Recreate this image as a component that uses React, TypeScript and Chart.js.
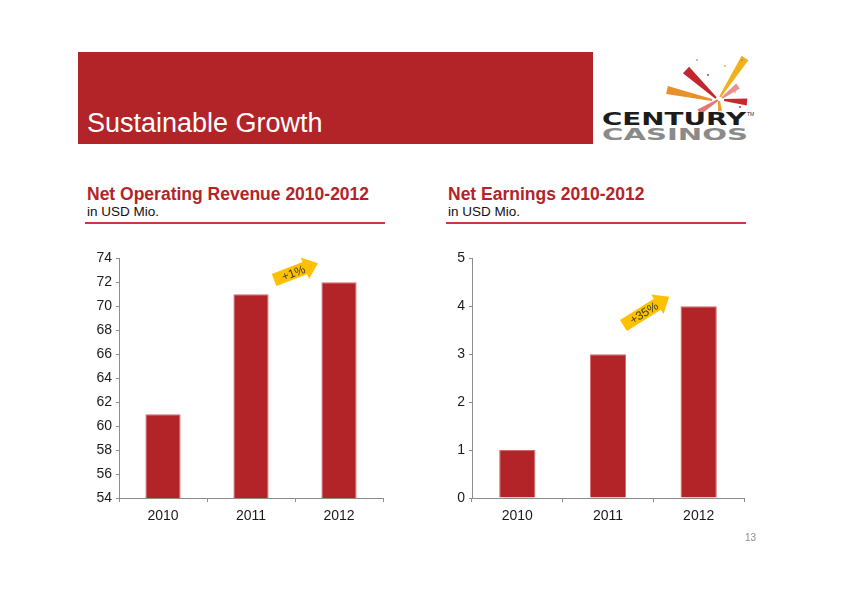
import React, { useEffect, useRef } from "react";
import { Chart, registerables } from "chart.js";

Chart.register(...registerables);

// ---- data ----
const years = ["2010", "2011", "2012"];
const revenueValues = [61, 71, 72];
const earningsValues = [1, 3, 4];
const revenueAxis = { min: 54, max: 74, step: 2 };
const earningsAxis = { min: 0, max: 5, step: 1 };
const revenueGrowthLabel = "+1%";
const earningsGrowthLabel = "+35%";

const FONT = "'Liberation Sans', Arial, Helvetica, sans-serif";
const RED = "#B22428";
const AXIS_GRAY = "#8c8c8c";

const arrowPlugin = {
  id: "growthArrow",
  afterDatasetsDraw(chart: any, _args: any, opts: any) {
    if (!opts || !opts.text) return;
    const { ctx } = chart;
    const x = chart.scales.x;
    const y = chart.scales.y;
    const cx =
      (x.getPixelForValue(opts.fromIndex) + x.getPixelForValue(opts.fromIndex + 1)) / 2 +
      (opts.dx || 0);
    const cy = y.getPixelForValue(opts.value);
    const L = opts.length;
    const half = L / 2;
    const headLen = 14;
    const bodyH = 6.5;
    const headH = 11.5;
    ctx.save();
    ctx.translate(cx, cy);
    ctx.rotate((opts.angle * Math.PI) / 180);
    ctx.beginPath();
    ctx.moveTo(-half, -bodyH);
    ctx.lineTo(half - headLen, -bodyH);
    ctx.lineTo(half - headLen, -headH);
    ctx.lineTo(half, 0);
    ctx.lineTo(half - headLen, headH);
    ctx.lineTo(half - headLen, bodyH);
    ctx.lineTo(-half, bodyH);
    ctx.closePath();
    ctx.fillStyle = "#FFC000";
    ctx.fill();
    ctx.fillStyle = "#3a3a3a";
    ctx.font = `12px ${FONT}`;
    ctx.textAlign = "center";
    ctx.textBaseline = "middle";
    ctx.fillText(opts.text, -headLen / 2 + 4, 1);
    ctx.restore();
  },
};

type BarChartProps = {
  values: number[];
  axis: { min: number; max: number; step: number };
  yWidth: number;
  rightPad: number;
  arrow: any;
  left: number;
  top: number;
  width: number;
  height: number;
};

function BarChart({ values, axis, yWidth, rightPad, arrow, left, top, width, height }: BarChartProps) {
  const ref = useRef<HTMLCanvasElement | null>(null);
  useEffect(() => {
    if (!ref.current) return;
    const chart = new Chart(ref.current, {
      type: "bar",
      data: {
        labels: years,
        datasets: [
          {
            data: values,
            backgroundColor: RED,
            borderColor: "#d26a6c",
            borderWidth: 1,
            categoryPercentage: 1,
            barPercentage: 0.4,
          },
        ],
      },
      options: {
        animation: false,
        responsive: false,
        devicePixelRatio: 1,
        layout: { padding: { top: 10, right: rightPad, left: 0, bottom: 0 } },
        plugins: {
          legend: { display: false },
          tooltip: { enabled: false },
          growthArrow: arrow,
        } as any,
        scales: {
          x: {
            grid: {
              display: true,
              drawOnChartArea: false,
              drawTicks: true,
              tickLength: 4,
              color: AXIS_GRAY,
              offset: true,
            },
            border: { display: true, color: AXIS_GRAY, width: 1 },
            ticks: { color: "#1a1a1a", font: { family: FONT, size: 14 }, padding: 6 },
            afterFit: (s: any) => {
              s.height = 38;
            },
          },
          y: {
            min: axis.min,
            max: axis.max,
            grid: {
              display: true,
              drawOnChartArea: false,
              drawTicks: true,
              tickLength: 3,
              color: AXIS_GRAY,
            },
            border: { display: true, color: AXIS_GRAY, width: 1 },
            ticks: {
              stepSize: axis.step,
              color: "#1a1a1a",
              font: { family: FONT, size: 14 },
              padding: 4,
            },
            afterFit: (s: any) => {
              s.width = yWidth;
            },
          },
        },
      },
      plugins: [arrowPlugin],
    } as any);
    return () => chart.destroy();
  }, []);
  return (
    <canvas
      ref={ref}
      width={width}
      height={height}
      style={{ position: "absolute", left, top, width, height }}
    />
  );
}

function ray(x1: number, y1: number, x2: number, y2: number, w1: number, w2: number) {
  const dx = x2 - x1;
  const dy = y2 - y1;
  const len = Math.hypot(dx, dy) || 1;
  const nx = -dy / len;
  const ny = dx / len;
  const pts = [
    [x1 + nx * w1 / 2, y1 + ny * w1 / 2],
    [x2 + nx * w2 / 2, y2 + ny * w2 / 2],
    [x2 - nx * w2 / 2, y2 - ny * w2 / 2],
    [x1 - nx * w1 / 2, y1 - ny * w1 / 2],
  ];
  return pts.map((p) => p.join(",")).join(" ");
}

function Logo() {
  const rays: [number, number, number, number, number, number, string][] = [
    [686, 70, 716, 98, 9, 2, "#C0282D"],
    [745, 58, 720, 97, 8, 2, "#F0B21C"],
    [667, 90, 712, 100, 8, 2, "#E8902A"],
    [747, 102, 724, 100, 7, 2, "#C52A30"],
    [699, 112, 718, 100, 6, 2, "#E27878"],
    [720, 111, 719, 101, 4, 2, "#F0A030"],
    [738, 86, 722, 98, 6, 2, "#E99090"],
  ];
  const dots: [number, number, string][] = [
    [697, 60, "#d0a0a0"],
    [725, 66, "#e0b050"],
    [742, 60, "#d07070"],
    [708, 75, "#c04040"],
    [740, 107, "#c04040"],
    [690, 96, "#e0a040"],
    [735, 92, "#e0b050"],
  ];
  return (
    <svg
      width={842}
      height={595}
      viewBox="0 0 842 595"
      style={{ position: "absolute", left: 0, top: 0, pointerEvents: "none" }}
    >
      {rays.map((r, i) => (
        <polygon key={i} points={ray(r[0], r[1], r[2], r[3], r[4], r[5])} fill={r[6]} />
      ))}
      {dots.map((d, i) => (
        <circle key={"d" + i} cx={d[0]} cy={d[1]} r={1} fill={d[2]} />
      ))}
      <text
        x={602}
        y={125}
        textLength={144}
        lengthAdjust="spacingAndGlyphs"
        style={{ fontFamily: "'DejaVu Sans', sans-serif", fontWeight: 700, fontSize: 17 }}
        fill="#1c1c1c"
      >
        CENTURY
      </text>
      <text x={747} y={116} style={{ fontFamily: FONT, fontSize: 5 }} fill="#333">
        TM
      </text>
      <text
        x={602}
        y={139.5}
        textLength={146}
        lengthAdjust="spacingAndGlyphs"
        style={{ fontFamily: "'DejaVu Sans', sans-serif", fontWeight: 700, fontSize: 15 }}
        fill="#8a8a8a"
      >
        CASINOS
      </text>
    </svg>
  );
}

export default function App() {
  return (
    <div
      style={{
        position: "fixed",
        left: 0,
        top: 0,
        width: 842,
        height: 595,
        background: "#ffffff",
        fontFamily: FONT,
        overflow: "hidden",
      }}
    >
      <div
        style={{
          position: "absolute",
          left: 78,
          top: 52,
          width: 515,
          height: 92,
          background: RED,
        }}
      />
      <div
        style={{
          position: "absolute",
          left: 87,
          top: 108,
          color: "#ffffff",
          fontSize: 27,
          lineHeight: "31px",
          whiteSpace: "nowrap",
        }}
      >
        Sustainable Growth
      </div>
      <Logo />

      <div
        style={{
          position: "absolute",
          left: 87,
          top: 184,
          color: RED,
          fontSize: 17.5,
          fontWeight: 700,
          lineHeight: "20px",
          whiteSpace: "nowrap",
        }}
      >
        Net Operating Revenue 2010-2012
      </div>
      <div
        style={{
          position: "absolute",
          left: 87,
          top: 204,
          color: "#111",
          fontSize: 13.5,
          lineHeight: "16px",
          whiteSpace: "nowrap",
        }}
      >
        in USD Mio.
      </div>
      <div
        style={{
          position: "absolute",
          left: 85,
          top: 222,
          width: 300,
          height: 1.5,
          background: "#C8383C",
        }}
      />

      <div
        style={{
          position: "absolute",
          left: 448,
          top: 184,
          color: RED,
          fontSize: 17.5,
          fontWeight: 700,
          lineHeight: "20px",
          whiteSpace: "nowrap",
        }}
      >
        Net Earnings 2010-2012
      </div>
      <div
        style={{
          position: "absolute",
          left: 448,
          top: 204,
          color: "#111",
          fontSize: 13.5,
          lineHeight: "16px",
          whiteSpace: "nowrap",
        }}
      >
        in USD Mio.
      </div>
      <div
        style={{
          position: "absolute",
          left: 446,
          top: 222,
          width: 300,
          height: 1.5,
          background: "#C8383C",
        }}
      />

      <BarChart
        values={revenueValues}
        axis={revenueAxis}
        yWidth={39}
        rightPad={7}
        left={80}
        top={246}
        width={310}
        height={290}
        arrow={{ fromIndex: 1, value: 72.9, dx: 1, angle: -21, length: 47, text: revenueGrowthLabel }}
      />
      <BarChart
        values={earningsValues}
        axis={earningsAxis}
        yWidth={32}
        rightPad={6}
        left={440}
        top={246}
        width={310}
        height={290}
        arrow={{ fromIndex: 1, value: 3.9, dx: -7, angle: -32, length: 54, text: earningsGrowthLabel }}
      />

      <div
        style={{
          position: "absolute",
          left: 745,
          top: 532,
          color: "#8a8a8a",
          fontSize: 10,
          lineHeight: "12px",
        }}
      >
        13
      </div>
    </div>
  );
}
